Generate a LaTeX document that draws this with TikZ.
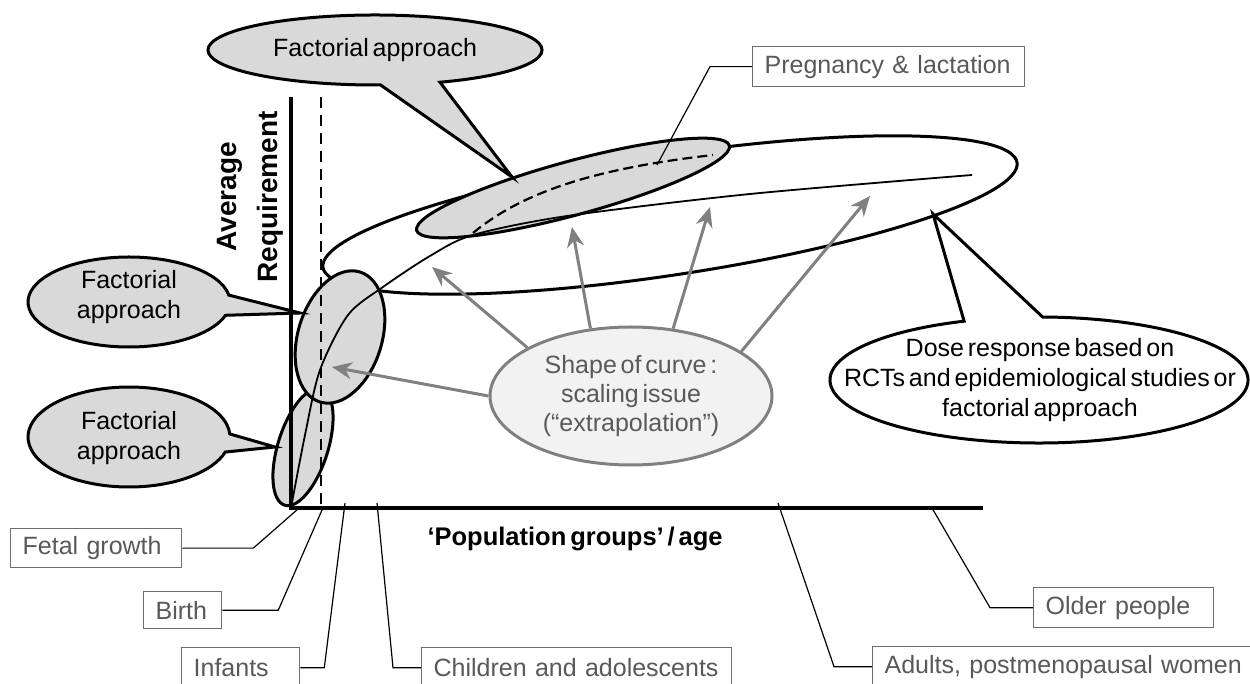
\documentclass[tikz,border=0pt]{standalone}
\usepackage{fontspec}
\setmainfont{Liberation Sans}[WordSpace=0.55]
\usepackage{tikz}
\usetikzlibrary{arrows.meta, positioning, shapes.geometric}
\definecolor{calgray}{HTML}{D9D9D9}
\definecolor{softgray}{HTML}{F2F2F2}
\definecolor{arrgray}{HTML}{808080}
\definecolor{txtgray}{HTML}{595959}
\definecolor{boxgray}{HTML}{6E6E6E}

\begin{document}
\begin{tikzpicture}[x=1pt, y=1pt,
    lbl/.style={draw=boxgray, line width=1.3pt, fill=white, text=txtgray, font=\fontsize{25}{30}\selectfont, inner xsep=12pt, inner ysep=0pt, anchor=north west, align=left},
    lead/.style={draw=black, line width=1.2pt},
    co/.style={draw=black, line width=3pt, fill=calgray},
    cotext/.style={font=\fontsize{25}{30}\selectfont, align=center},
    blob/.style={draw=black, line width=3pt, fill=calgray},
    garrow/.style={draw=arrgray, line width=3pt, -{Stealth[length=20pt, width=17pt]}},
    axis/.style={draw=black, line width=4pt}
]
\useasboundingbox (0,0) rectangle (1250,683);

% Dose response band and groups
\draw[line width=3pt, fill=white, rotate around={8.6:(670,468)}] (670,468) ellipse [x radius=351, y radius=60];
\draw[blob, rotate around={15.2:(573,495)}] (573,495) ellipse [x radius=162, y radius=27];
\draw[line width=2.2pt, dash pattern=on 10pt off 5pt] (473,450) .. controls (525,493) and (600,515) .. (713,528);
\draw[blob, rotate around={72.5:(303,236)}] (303,236) ellipse [x radius=61, y radius=25];
\draw[blob, rotate around={73:(340,346)}] (340,346) ellipse [x radius=68, y radius=42];

% Requirement curve
\draw[line width=1.8pt] plot[smooth] coordinates {(291,175) (305,248) (320,313) (348,368) (383,396) (430,427) (473,448) (567,467) (750,489) (972,508)};

% Callouts
\coordinate (topC) at (375,633);
\coordinate (leftC1) at (129,381);
\coordinate (leftC2) at (129,246);
\coordinate (doseC) at (1039,303);
\draw[co] (topC) ++(-67.1:167 and 35) arc[start angle=-67.1, delta angle=339, x radius=167, y radius=35] -- (512,506) -- cycle;
\draw[co] (leftC1) ++(8.8:101 and 45) arc[start angle=8.8, delta angle=334, x radius=101, y radius=45] -- (300,370) -- cycle;
\draw[co] (leftC2) ++(3.5:101 and 50) arc[start angle=3.5, delta angle=339, x radius=101, y radius=50] -- (275,236) -- cycle;
\draw[co, fill=white] (doseC) ++(111:209 and 63) arc[start angle=111, delta angle=338, x radius=209, y radius=63] -- (933,469) -- cycle;
\node[cotext] (topCo) at (topC) {Factorial approach};
\node[cotext] (leftCo1) at (129,386) {Factorial\\approach};
\node[cotext] (leftCo2) at (129,245) {Factorial\\approach};
\node[cotext] (doseCo) at (1040,303) {Dose response based on\\RCTs and epidemiological studies or\\factorial approach};

% Axes
\draw[axis] (291,586) -- (291,175) -- (983,175);
\draw[line width=2pt, dash pattern=on 11pt off 7pt] (321,586) -- (321,178);
\node[font=\fontsize{28}{41}\selectfont\bfseries, rotate=90, align=center] (ylab) at (250,486) {Average\\Requirement};
\node[font=\fontsize{25.5}{30}\selectfont\bfseries, anchor=base west] (xlab) at (424,137) {‘Population groups’ / age};

% Shape of curve
\node[ellipse, draw=arrgray, line width=3pt, fill=softgray, minimum width=282pt, minimum height=138pt, inner sep=0pt, text=txtgray, font=\fontsize{25}{29}\selectfont, align=center] (curveShape) at (631,287) {Shape of curve :\\scaling issue\\(“extrapolation”)};
\coordinate (aimA) at (332,316);
\coordinate (aimB) at (432,416);
\coordinate (aimC) at (572,456);
\coordinate (aimD) at (710,476);
\coordinate (aimE) at (870,487);
\draw[garrow] (curveShape.180) -- (aimA);
\draw[garrow] (curveShape.155) -- (aimB);
\draw[garrow] (curveShape.121) -- (aimC);
\draw[garrow] (curveShape.58) -- (aimD);
\draw[garrow] (curveShape.22) -- (aimE);

% Population groups
\coordinate (tFetal) at (298,174);
\coordinate (tBirth) at (322,173);
\coordinate (tInfant) at (345,180);
\coordinate (tChild) at (377,180);
\coordinate (tAdult) at (778,180);
\coordinate (tOlder) at (932,175);
\coordinate (tPreg) at (657,518);
\node[lbl, text width=147pt, minimum height=39pt] (fetal) at (10,155) {\mbox{Fetal growth}};
\node[lbl, text width=54pt, minimum height=37pt] (birth) at (143,92) {\mbox{Birth}};
\node[lbl, text width=94pt, minimum height=40pt] (infants) at (181,36) {\mbox{Infants}};
\node[lbl, text width=286pt, minimum height=40pt] (children) at (421,36) {\mbox{Children and adolescents}};
\node[lbl, text width=360pt, minimum height=40pt] (adults) at (872,37) {\mbox{Adults, postmenopausal women}};
\node[lbl, text width=156pt, minimum height=40pt] (older) at (1033,96) {\mbox{Older people}};
\node[lbl, text width=248pt, minimum height=40pt] (preg) at (752,637) {\mbox{Pregnancy \& lactation}};
\draw[lead] (fetal.east) -- ++(71,0) -- (tFetal);
\draw[lead] (birth.east) -- ++(56,0) -- (tBirth);
\draw[lead] (infants.east) -- ++(24,0) -- (tInfant);
\draw[lead] (children.west) -- ++(-28,0) -- (tChild);
\draw[lead] (adults.west) -- ++(-38,0) -- (tAdult);
\draw[lead] (older.west) -- ++(-43,0) -- (tOlder);
\draw[lead] (preg.west) -- ++(-42,0) -- (tPreg);

\end{tikzpicture}
\end{document}
